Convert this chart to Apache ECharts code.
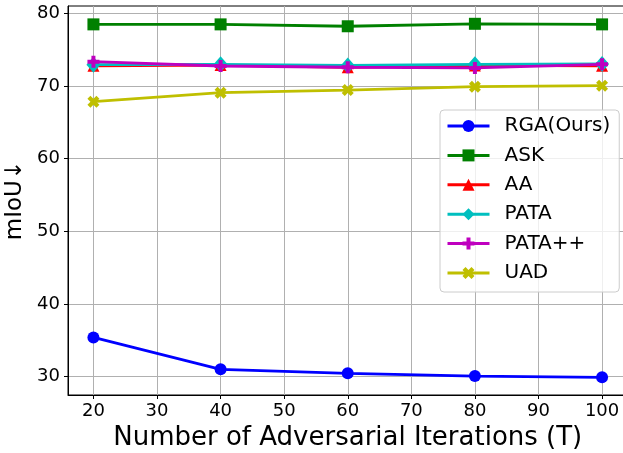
<!DOCTYPE html>
<html>
<head>
<meta charset="utf-8">
<script src="https://cdn.jsdelivr.net/npm/echarts@6/dist/echarts.min.js"></script>
<style>
html,body{margin:0;padding:0;background:#fff;}
#chart{width:623px;height:453px;}
</style>
</head>
<body>
<div id="chart"></div>
<script>
var iterations = [20, 40, 60, 80, 100];
var xTicks = [20, 30, 40, 50, 60, 70, 80, 90, 100];
var yTicks = [30, 40, 50, 60, 70, 80];

var rga    = [35.4, 31.0, 30.45, 30.07, 29.9];
var ask    = [78.5, 78.5, 78.24, 78.58, 78.5];
var aa     = [72.8, 72.9, 72.6, 72.85, 72.8];
var pata   = [72.95, 73.0, 72.85, 73.0, 73.05];
var pataPP = [73.36, 72.77, 72.6, 72.5, 73.0];
var uad    = [67.85, 69.1, 69.45, 69.92, 70.06];

var seriesNames = ['RGA(Ours)', 'ASK', 'AA', 'PATA', 'PATA++', 'UAD'];
var seriesData = [rga, ask, aa, pata, pataPP, uad];
var colors = ['#0000ff', '#008000', '#ff0000', '#00bfbf', '#bf00bf', '#bfbf00'];

var plusPath = 'path://M2,0H4V2H6V4H4V6H2V4H0V2H2Z';
var xPath = 'path://M0.17,4.41L1.59,5.83L3,4.41L4.41,5.83L5.83,4.41L4.41,3L5.83,1.59L4.41,0.17L3,1.59L1.59,0.17L0.17,1.59L1.59,3Z';
var symbols = ['circle', 'rect', 'triangle', 'diamond', plusPath, xPath];
var sizes = [12, 12, 12, [14, 16], 12, 12];

function pairs(arr) {
  return iterations.map(function (x, i) { return [x, arr[i]]; });
}

var series = seriesNames.map(function (name, i) {
  return {
    name: name,
    type: 'line',
    data: pairs(seriesData[i]),
    symbol: symbols[i],
    symbolSize: sizes[i],
    showAllSymbol: true,
    lineStyle: { color: colors[i], width: 2.8 },
    itemStyle: { color: colors[i], borderWidth: 0 },
    emphasis: { disabled: true },
    animation: false,
    z: 2 + i
  };
});

var font = 'DejaVu Sans';
var chart = echarts.init(document.getElementById('chart'), null, { renderer: 'canvas' });
chart.setOption({
  animation: false,
  backgroundColor: '#fff',
  color: colors,
  grid: {
    left: 68, top: 6, width: 559.5, height: 389,
    containLabel: false,
    outerBoundsMode: 'none',
    show: true, borderColor: '#000', borderWidth: 1, backgroundColor: 'transparent'
  },
  xAxis: {
    type: 'value',
    min: 16, max: 104,
    name: 'Number of Adversarial Iterations (T)',
    nameLocation: 'middle',
    nameGap: 30,
    nameMoveOverlap: false,
    nameTextStyle: { fontFamily: font, fontSize: 26, color: '#000' },
    axisLine: { show: true, onZero: false, lineStyle: { color: '#000', width: 1 } },
    axisTick: { show: true, length: 4, customValues: xTicks, lineStyle: { color: '#000' } },
    axisLabel: { customValues: xTicks, fontFamily: font, fontSize: 18, color: '#000', margin: 7 },
    splitLine: { show: true, lineStyle: { color: '#b0b0b0', width: 1 } }
  },
  yAxis: {
    type: 'value',
    min: 27.47, max: 81.03,
    name: 'mIoU↓',
    nameLocation: 'middle',
    nameGap: 41,
    nameMoveOverlap: false,
    nameTextStyle: { fontFamily: font, fontSize: 23, color: '#000' },
    axisLine: { show: true, onZero: false, lineStyle: { color: '#000', width: 1 } },
    axisTick: { show: true, length: 4, customValues: yTicks, lineStyle: { color: '#000' } },
    axisLabel: { customValues: yTicks, fontFamily: font, fontSize: 18, color: '#000', margin: 8 },
    splitLine: { show: true, lineStyle: { color: '#b0b0b0', width: 1 } }
  },
  legend: {
    orient: 'vertical',
    left: 440, top: 110,
    padding: [6, 9, 9, 6],
    itemWidth: 42, itemHeight: 15,
    itemGap: 9.4,
    lineStyle: { width: 3 },
    backgroundColor: 'rgba(255,255,255,0.8)',
    borderColor: '#cccccc', borderWidth: 1, borderRadius: 4,
    textStyle: { fontFamily: font, fontSize: 20, color: '#000', lineHeight: 20, padding: [0, 0, 0, 10] },
    data: seriesNames
  },
  series: series
});
</script>
</body>
</html>
